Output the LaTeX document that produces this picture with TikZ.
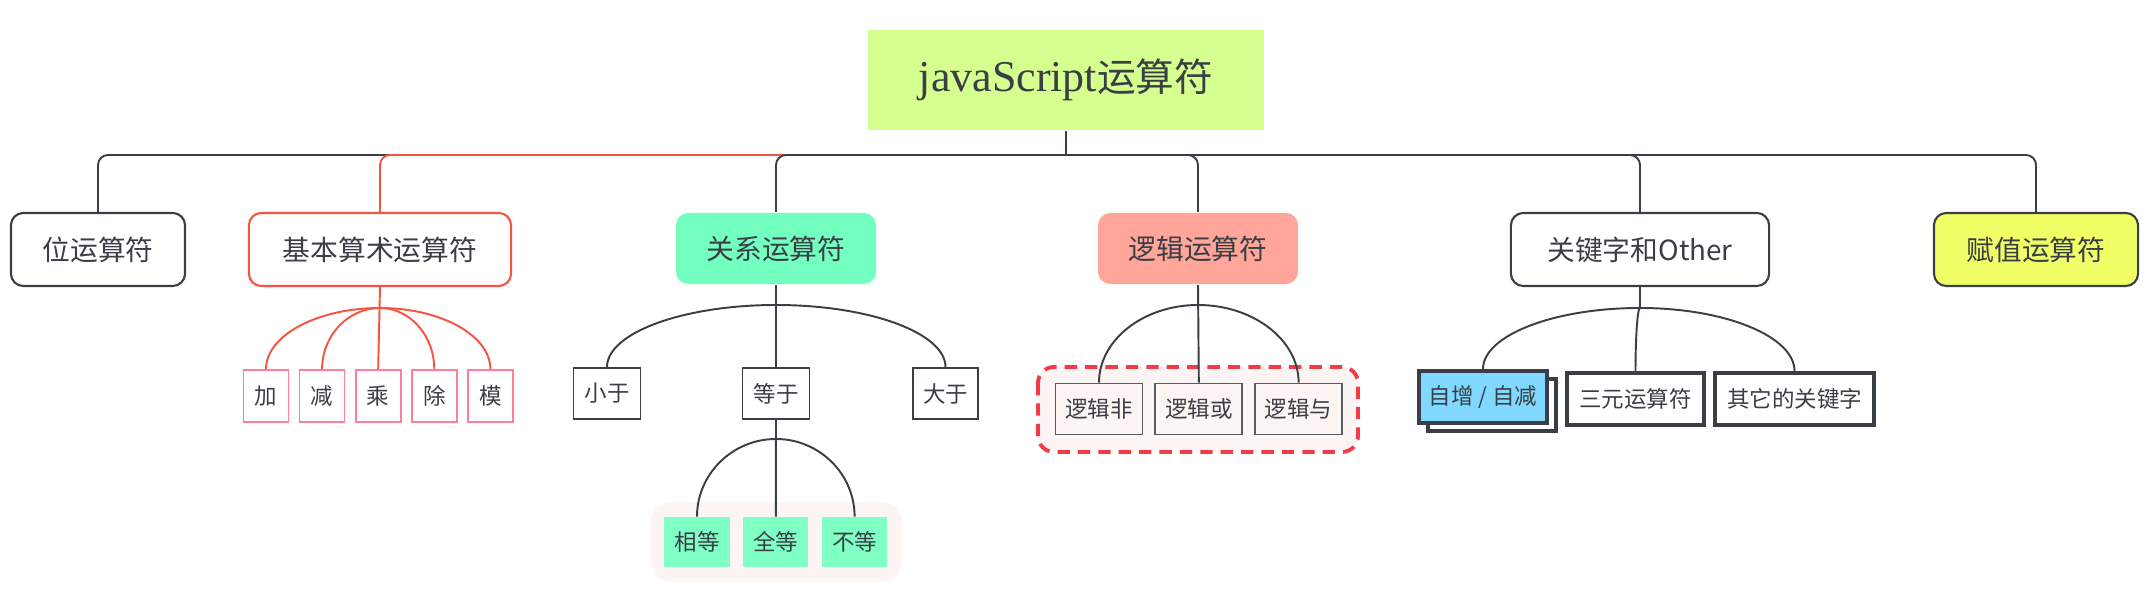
\documentclass[tikz,border=0pt]{standalone}
\usepackage{fontspec}
\setmainfont{Noto Sans CJK SC}
\newfontfamily\latinserif{Liberation Serif}
\usepackage{tikz}
\usetikzlibrary{positioning,calc}
\definecolor{ink}{HTML}{3A3E45}
\definecolor{arithred}{HTML}{F65442}
\definecolor{arithpink}{HTML}{FF7F96}
\definecolor{rootlime}{HTML}{D5FF8E}
\definecolor{relgreen}{HTML}{73FFBF}
\definecolor{eqgreen}{HTML}{80FFC4}
\definecolor{logicsalmon}{HTML}{FFA599}
\definecolor{assignyellow}{HTML}{F0FF66}
\definecolor{incblue}{HTML}{80D8FF}
\definecolor{blush}{HTML}{FDF4F4}
\definecolor{dashred}{HTML}{F23B46}

\begin{document}
\begin{tikzpicture}[x=0.01cm, y=-0.01cm,
  line/.style={draw=ink, line width=0.55pt},
  topic/.style={draw=ink, line width=0.6pt, rounded corners=3.5pt, minimum height=0.73cm, inner sep=0pt, text=ink, font=\fontsize{7.9}{9}\selectfont},
  leaf/.style={draw=ink, line width=0.5pt, minimum height=0.51cm, inner sep=0pt, text=ink, font=\fontsize{6.4}{8}\selectfont},
  arithleaf/.style={leaf, draw=arithpink, minimum width=0.45cm, minimum height=0.52cm},
  eqleaf/.style={leaf, draw=none, fill=eqgreen, minimum width=0.65cm, minimum height=0.49cm},
  logicleaf/.style={leaf, draw=ink!85, fill=blush, minimum width=0.87cm},
  kwleaf/.style={leaf, line width=1.1pt, fill=white, minimum height=0.52cm},
  curve/.style={to path={.. controls ($(\tikztostart)!0.55!(\tikztostart -| \tikztotarget)$) and ($(\tikztotarget)!0.55!(\tikztotarget |- \tikztostart)$) .. (\tikztotarget)}}
]
\useasboundingbox (0,0) rectangle (2154,598);

% root and main topics
\node[fill=rootlime, minimum width=3.96cm, minimum height=1cm, text=ink] (root) at (1066,80)
  {{\latinserif\fontsize{12.5}{14}\selectfont javaScript}{\fontsize{11}{14}\selectfont 运算符}};

\node[topic, minimum width=1.74cm] (bit) at (98,249.5) {位运算符};
\node[topic, draw=arithred, minimum width=2.62cm] (arith) at (380,249.5) {基本算术运算符};
\node[topic, draw=none, fill=relgreen, minimum width=2cm, minimum height=0.71cm] (rel) at (776,248.5) {关系运算符};
\node[topic, draw=none, fill=logicsalmon, minimum width=2cm, minimum height=0.71cm] (logic) at (1198,248.5) {逻辑运算符};
\node[topic, minimum width=2.58cm] (kw) at (1640,249.5) {关键字和Other};
\node[topic, fill=assignyellow, minimum width=2.04cm] (assign) at (2036,249.5) {赋值运算符};

\coordinate (hub) at (1066,155);
\draw[line] (root.south) -- (hub);
\draw[line, rounded corners=0.1cm] (hub) -| (bit.north);
\draw[line, draw=arithred, rounded corners=0.1cm] (hub) -| (arith.north);
\foreach \t in {rel,logic,kw,assign}
  \draw[line, rounded corners=0.1cm] (hub) -| (\t.north);

% arithmetic
\node[arithleaf] (add) at (266,396) {加};
\node[arithleaf, right=0.093cm of add] (sub) {减};
\node[arithleaf, right=0.093cm of sub] (mul) {乘};
\node[arithleaf, right=0.093cm of mul] (div) {除};
\node[arithleaf, right=0.093cm of div] (mod) {模};
\coordinate (arithj) at (380,308);
\draw[line, draw=arithred] (arith.south) -- (mul.north);
\foreach \t in {add,sub,div,mod}
  \draw[line, draw=arithred] (arithj) to[curve] (\t.north);

% relational
\node[leaf, minimum width=0.67cm] (lt) at (607,393.5) {小于};
\node[leaf, minimum width=0.67cm] (eq) at (776,393.5) {等于};
\node[leaf, minimum width=0.65cm] (gt) at (945.5,393.5) {大于};
\coordinate (relj) at (776,305);
\draw[line] (rel.south) -- (eq.north);
\draw[line] (relj) to[curve] (lt.north) (relj) to[curve] (gt.north);

\fill[blush, rounded corners=0.2cm] (651,502) rectangle (902,582);
\node[eqleaf] (same) at (697,542) {相等};
\node[eqleaf, right=0.12cm of same] (ident) {全等};
\node[eqleaf, right=0.12cm of ident] (neq) {不等};
\coordinate (eqj) at (776,439);
\draw[line] (eq.south) -- (ident.north);
\draw[line] (eqj) to[curve] (same.north) (eqj) to[curve] (neq.north);

% logical
\draw[dashred, line width=1.1pt, dash pattern=on 3.5pt off 2.3pt, fill=blush, rounded corners=0.16cm]
  (1038,367) rectangle (1358,452);
\node[logicleaf] (lnot) at (1099,409) {逻辑非};
\node[logicleaf, right=0.11cm of lnot] (lor) {逻辑或};
\node[logicleaf, right=0.11cm of lor] (land) {逻辑与};
\coordinate (logicj) at (1198,305);
\draw[line] (logic.south) -- (lor.north);
\draw[line] (logicj) to[curve] (lnot.north) (logicj) to[curve] (land.north);

% keywords and other
\node[kwleaf, minimum width=1.28cm] (incback) at (1492,405) {};
\node[kwleaf, fill=incblue, minimum width=1.28cm] (inc) at (1483,397) {自增 / 自减};
\node[kwleaf, minimum width=1.37cm] (tern) at (1635.5,399) {三元运算符};
\node[kwleaf, minimum width=1.59cm] (other) at (1794.5,399) {其它的关键字};
\coordinate (kwj) at (1640,308);
\draw[line] (kw.south) -- (kwj) to[curve] (tern.north);
\draw[line] (kwj) to[curve] (inc.north) (kwj) to[curve] (other.north);
\end{tikzpicture}
\end{document}
